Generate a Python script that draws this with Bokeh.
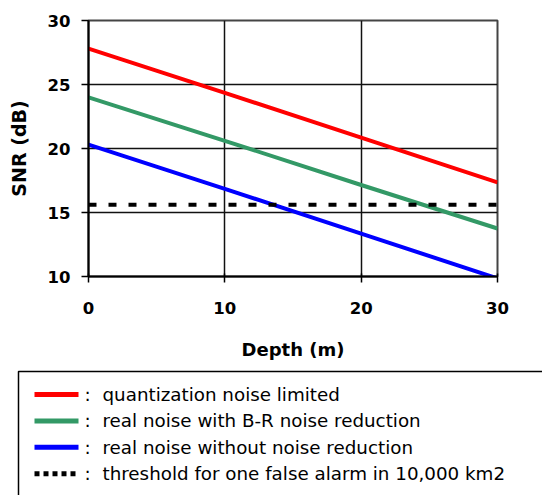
from bokeh.plotting import figure
from bokeh.layouts import column
from bokeh.models import Range1d, FixedTicker
from bokeh.core.properties import value
from bokeh.embed import file_html
from bokeh.resources import INLINE

# ---- data ----
depth = [0, 10, 20, 30]
snr_quantization = [27.8, 24.35, 20.85, 17.35]
snr_br_reduction = [24.0, 20.6, 17.15, 13.75]
snr_no_reduction = [20.3, 16.85, 13.35, 9.85]
threshold_depth = [0, 30]
threshold_snr = [15.6, 15.6]
x_ticks = [0, 10, 20, 30]
y_ticks = [10, 15, 20, 25, 30]
legend_labels = [
    "quantization noise limited",
    "real noise with B-R noise reduction",
    "real noise without noise reduction",
    "threshold for one false alarm in 10,000 km2",
]

RED, GREEN, BLUE, BLACK = "#FF0000", "#339966", "#0000FF", "#000000"
FONT = "DejaVu Sans"
W = 542

# ---- main chart ----
p = figure(width=W, height=368,
           x_range=Range1d(0, 30), y_range=Range1d(10, 30),
           output_backend="svg", toolbar_location=None,
           min_border_left=88, min_border_right=45,
           min_border_top=20, min_border_bottom=92,
           background_fill_color="white", border_fill_color="white")
p.frame_align = False

p.outline_line_color = "#444444"
p.outline_line_width = 2

p.xaxis.ticker = FixedTicker(ticks=x_ticks)
p.yaxis.ticker = FixedTicker(ticks=y_ticks)
p.xaxis.minor_tick_line_color = None
p.yaxis.minor_tick_line_color = None

for ax in (p.xaxis, p.yaxis):
    ax.axis_line_color = "black"
    ax.axis_line_width = 2
    ax.major_tick_line_color = "black"
    ax.major_tick_line_width = 1.5
    ax.major_label_text_font = FONT
    ax.major_label_text_font_style = "bold"
    ax.major_label_text_font_size = "16.5px"
    ax.major_label_text_color = "black"
    ax.axis_label_text_font = FONT
    ax.axis_label_text_font_style = "bold"
    ax.axis_label_text_color = "black"

p.xaxis.major_tick_in = 3
p.xaxis.major_tick_out = 6
p.xaxis.major_label_standoff = 19
p.xaxis.axis_label = "Depth (m)"
p.xaxis.axis_label_text_font_size = "18px"
p.xaxis.axis_label_standoff = 22

p.yaxis.major_tick_in = 0
p.yaxis.major_tick_out = 7
p.yaxis.major_label_standoff = 11
p.yaxis.axis_label = "SNR (dB)"
p.yaxis.axis_label_text_font_size = "19px"
p.yaxis.axis_label_standoff = 15

p.xgrid.ticker = FixedTicker(ticks=x_ticks)
p.ygrid.ticker = FixedTicker(ticks=y_ticks)
p.grid.grid_line_color = "#111111"
p.grid.grid_line_width = 1.5

p.line(depth, snr_quantization, line_color=RED, line_width=4)
p.line(depth, snr_br_reduction, line_color=GREEN, line_width=4)
p.line(depth, snr_no_reduction, line_color=BLUE, line_width=4)
p.line(threshold_depth, threshold_snr, line_color=BLACK, line_width=4,
       line_dash="8 12", line_cap="butt")

# ---- legend panel ----
LH = 127
q = figure(width=W, height=LH,
           x_range=Range1d(0, W), y_range=Range1d(LH, 0),
           x_axis_type=None, y_axis_type=None,
           output_backend="svg", toolbar_location=None,
           min_border=0, outline_line_color=None)
q.frame_align = False
q.grid.visible = False

q.quad(left=18, right=620, top=3, bottom=300, fill_color=None,
       line_color="black", line_width=1.5)

colors = [RED, GREEN, BLUE, BLACK]
dashes = ["solid", "solid", "solid", "5 4"]
for i, (lab, c, d) in enumerate(zip(legend_labels, colors, dashes)):
    ry = 26 + 26.4 * i
    q.segment(x0=[34], y0=[ry], x1=[78], y1=[ry], line_color=c,
              line_width=5, line_dash=d, line_cap="butt")
    q.text(x=[84], y=[ry], text=[":"], text_font=value(FONT),
           text_font_size="18.3px", text_baseline="middle", text_color="black")
    q.text(x=[102], y=[ry], text=[lab], text_font=value(FONT),
           text_font_size="18.3px", text_baseline="middle", text_color="black")

layout = column(p, q, spacing=0)
open("out.html", "w").write(file_html(layout, INLINE))
